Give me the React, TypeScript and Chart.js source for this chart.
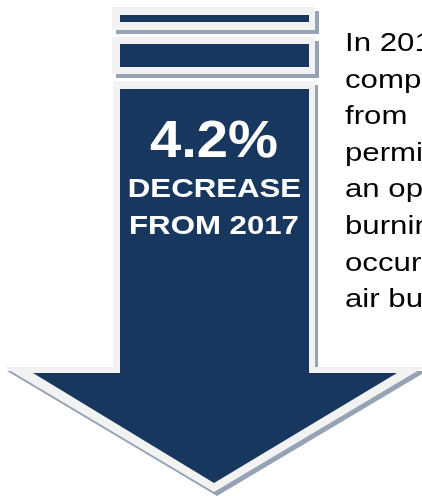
import { useEffect, useRef } from 'react'
import { Chart, registerables } from 'chart.js'

// register everything Chart.js ships
Chart.register(...registerables)

// headline numbers
const decreasePct = 4.2
const baseYear = 2017
const statLines = [`${decreasePct}%`, 'DECREASE', `FROM ${baseYear}`]

// side paragraph (clipped at the right edge like the original)
const sideLines = ['In 2018', 'compared', 'from', 'permitted', 'an open', 'burning', 'occurred', 'air burners']

// arrow shape outlines, in canvas units
const stripeOuter = [
  [[112, 7], [315, 7], [315, 30], [112, 30]],
  [[112, 37], [315, 37], [315, 74], [112, 74]],
]
const stripeInner = [
  [[120, 15], [309, 15], [309, 22], [120, 22]],
  [[120, 44], [309, 44], [309, 67], [120, 67]],
]
const arrowOuter = [[113, 81], [315, 81], [315, 367], [424, 367], [214, 492], [4, 367], [113, 367]]
const arrowInner = [[120, 89], [309, 89], [309, 373], [397, 373], [214, 483], [33, 373], [120, 373]]
const shadowShift = [4, 4]

const navy = '#17375e'
const light = '#f2f2f2'
const shadow = '#95a3b5'

const toPts = (poly: number[][], dx = 0, dy = 0) => poly.map(([x, y]) => ({ x: x + dx, y: y + dy }))

const shape = (poly: number[][], color: string, dx = 0, dy = 0) => ({
  type: 'line' as const,
  data: toPts(poly, dx, dy),
  showLine: false,
  pointRadius: 0,
  fillColor: color,
})

// fills each dataset as a closed polygon from the points the scales placed
const polygonPlugin = {
  id: 'polygons',
  beforeDatasetsDraw(chart: any) {
    const ctx = chart.ctx
    chart.data.datasets.forEach((ds: any, i: number) => {
      const pts = chart.getDatasetMeta(i).data
      if (!pts.length) return
      ctx.save()
      ctx.beginPath()
      pts.forEach((p: any, j: number) => (j ? ctx.lineTo(p.x, p.y) : ctx.moveTo(p.x, p.y)))
      ctx.closePath()
      ctx.fillStyle = ds.fillColor
      ctx.fill()
      ctx.restore()
    })
  },
  afterDatasetsDraw(chart: any) {
    const ctx = chart.ctx
    const sx = chart.scales.x
    const sy = chart.scales.y
    const font = 'Arial, "Liberation Sans", sans-serif'
    const put = (txt: string, x: number, y: number, size: number, stretch: number, align: CanvasTextAlign, color: string, bold: boolean) => {
      ctx.save()
      ctx.translate(sx.getPixelForValue(x), sy.getPixelForValue(y))
      ctx.scale(stretch, 1)
      ctx.font = `${bold ? 'bold ' : ''}${size}px ${font}`
      ctx.textAlign = align
      ctx.textBaseline = 'alphabetic'
      ctx.fillStyle = color
      ctx.fillText(txt, 0, 0)
      ctx.restore()
    }
    put(statLines[0], 214, 157, 52, 1.08, 'center', '#ffffff', true)
    put(statLines[1], 214.5, 197, 26, 1.2, 'center', '#ffffff', true)
    put(statLines[2], 214, 234, 26, 1.2, 'center', '#ffffff', true)
    sideLines.forEach((t, i) => put(t, 345, 51 + i * 36.6, 26, 1.2, 'left', '#000000', false))
  },
}

export default function App() {
  const canvasRef = useRef<HTMLCanvasElement>(null)

  useEffect(() => {
    if (!canvasRef.current) return
    const datasets = [
      ...stripeOuter.map(p => shape(p, shadow, shadowShift[0], shadowShift[1])),
      ...stripeOuter.map(p => shape(p, light)),
      ...stripeInner.map(p => shape(p, navy)),
      shape(arrowOuter, shadow, shadowShift[0] - 1, shadowShift[1]),
      shape(arrowOuter, light),
      shape(arrowInner, navy),
    ]
    const chart = new Chart(canvasRef.current, {
      type: 'scatter',
      data: { datasets },
      options: {
        animation: false,
        responsive: false,
        layout: { padding: 0 },
        plugins: { legend: { display: false }, tooltip: { enabled: false } },
        scales: {
          x: { type: 'linear', min: 0, max: 422, display: false },
          y: { type: 'linear', min: 0, max: 496, reverse: true, display: false },
        },
      },
      plugins: [polygonPlugin],
    } as any)
    return () => chart.destroy()
  }, [])

  return (
    <div style={{ position: 'fixed', left: 0, top: 0, width: 422, height: 496, background: '#ffffff' }}>
      <canvas ref={canvasRef} width={422} height={496}></canvas>
    </div>
  )
}
